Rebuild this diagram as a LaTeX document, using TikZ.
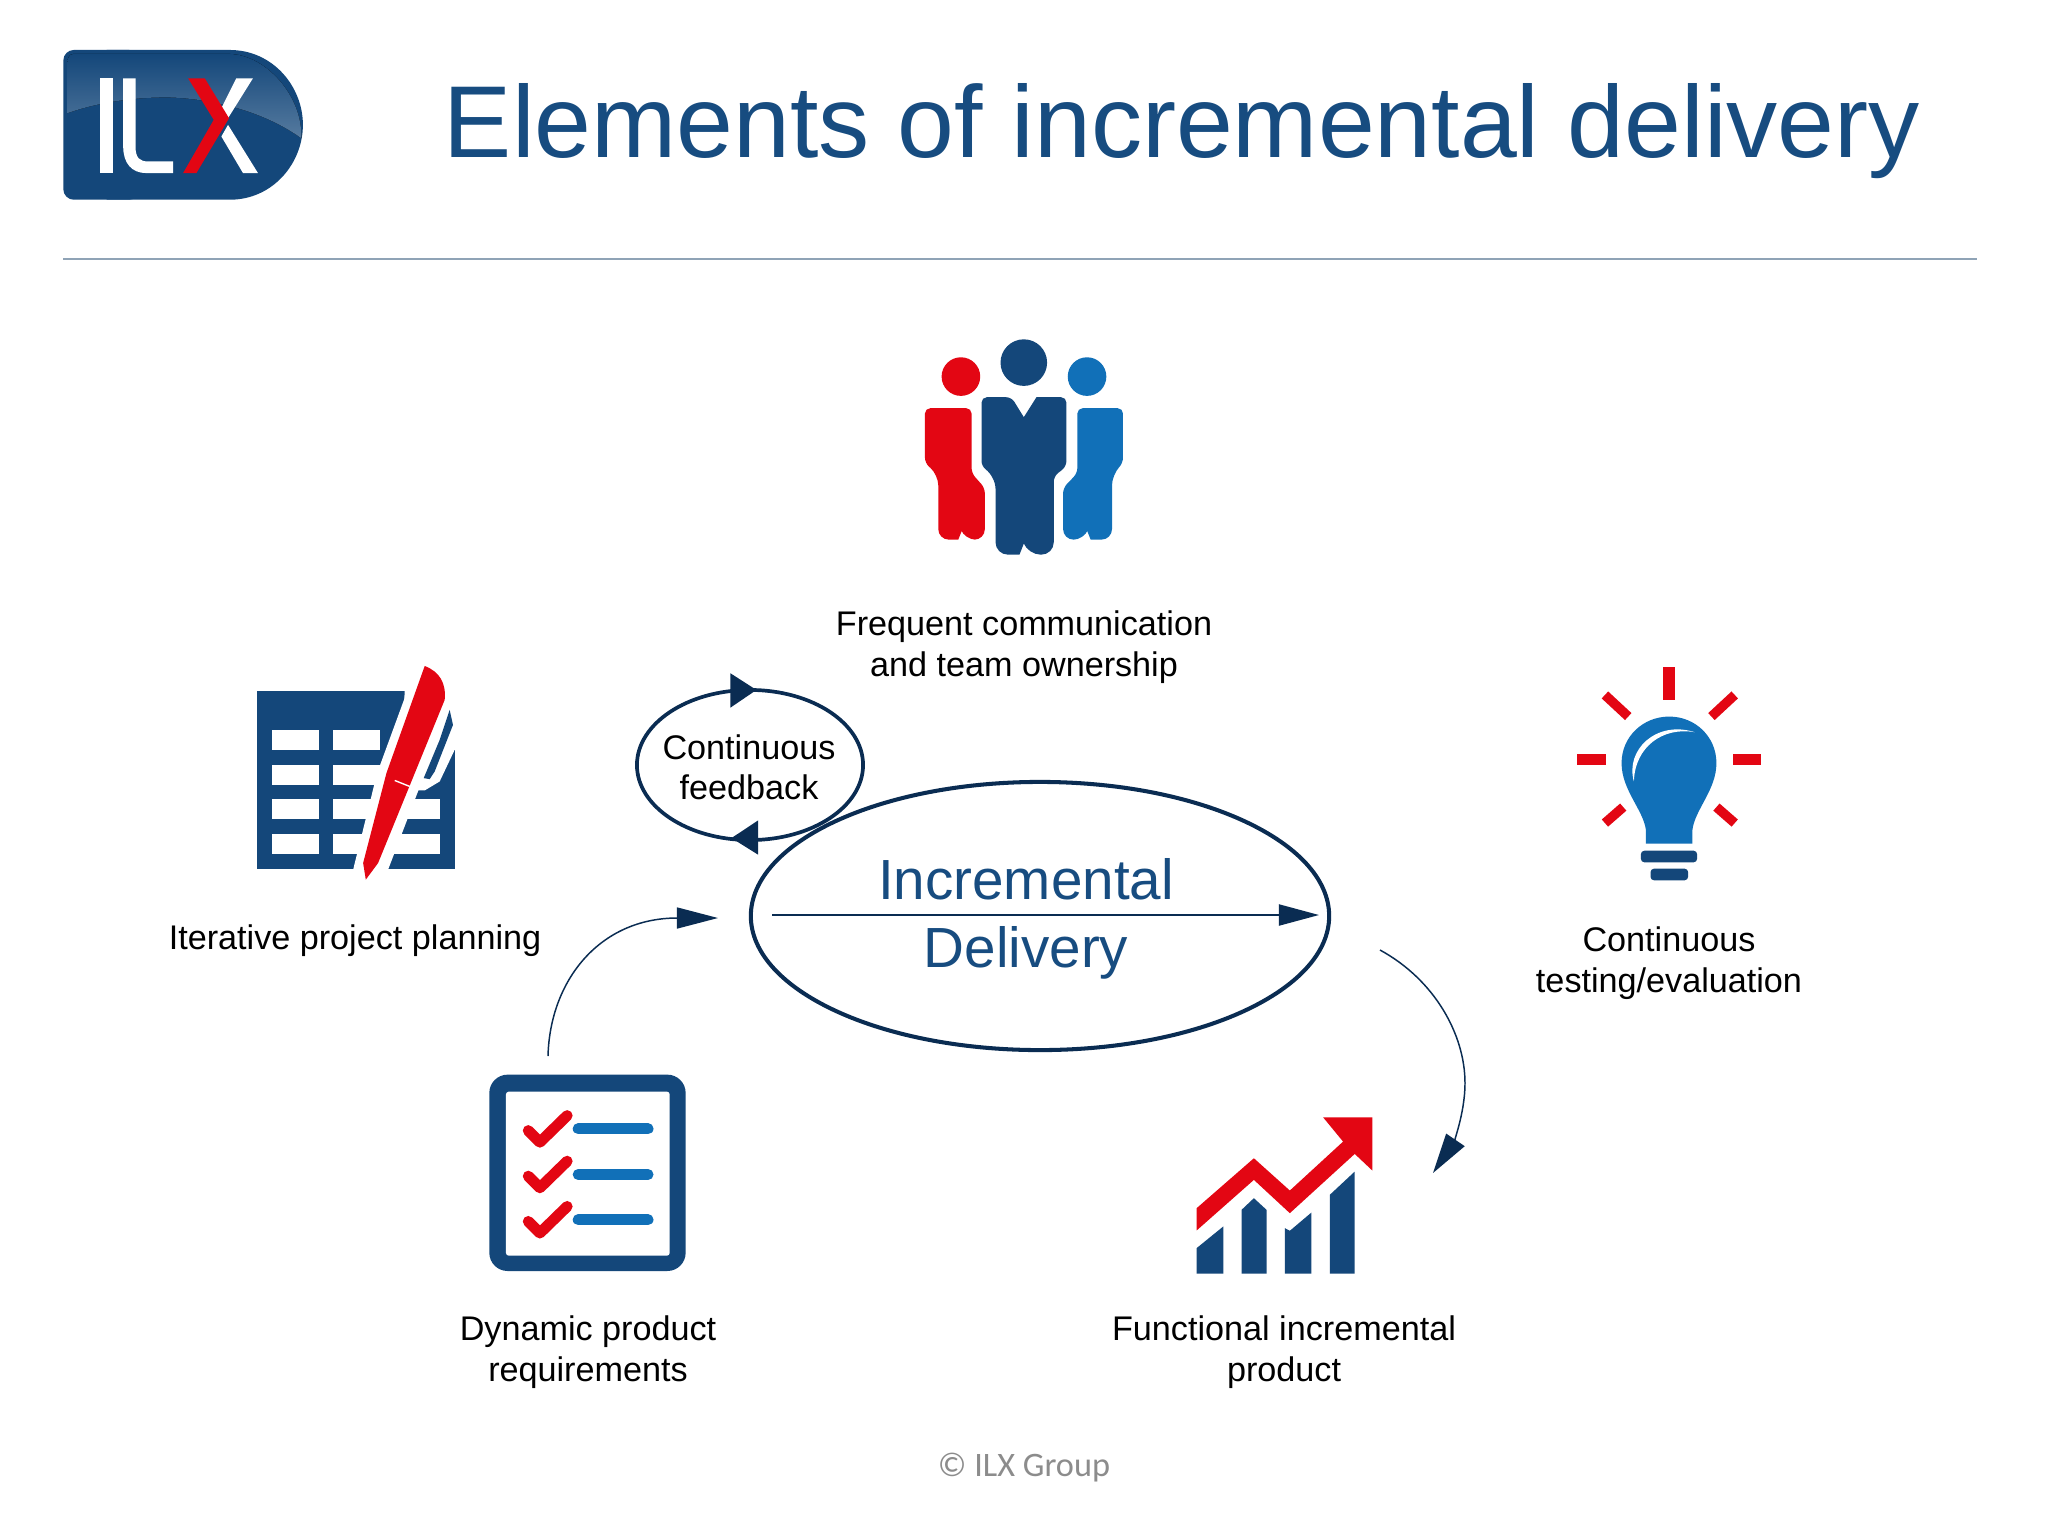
\documentclass[tikz,border=0pt]{standalone}
\usepackage{fontspec}
\usetikzlibrary{shapes.geometric,arrows.meta}
\setmainfont{Liberation Sans}
\newfontfamily\copyfont{Carlito}
\definecolor{navy}{HTML}{14477A}
\definecolor{ink}{HTML}{0A2C52}
\definecolor{titleblue}{HTML}{174C80}
\definecolor{midblue}{HTML}{1170B8}
\definecolor{redicon}{HTML}{E30613}
\definecolor{rulegrey}{HTML}{8FA3B6}
\tikzset{
  lbl/.style={align=center,font=\fontsize{9.72pt}{11.5pt}\selectfont,text=black,inner sep=0pt},
  zoomed/.style={x=0.0033333cm,y=-0.0033333cm},
  thinarc/.style={draw=ink,line width=0.42pt},
  ring/.style={draw=ink,line width=1.05pt,ellipse,inner sep=0pt}
}
\begin{document}
\begin{tikzpicture}[x=0.01cm,y=-0.01cm]
\useasboundingbox (0,0) rectangle (2048,1536);
\fill[white] (0,0) rectangle (2048,1536);
% logo
\begin{scope}[shift={(40,30)},zoomed]
\fill[navy,rounded corners=3pt] (70,60) -- (70,510) -- (300,510) -- (300,60) -- cycle;
\fill[navy] (200,60) -- (570,60) .. controls (700,60) and (790,170) .. (790,285) .. controls (790,400) and (700,510) .. (570,510) -- (200,510) -- cycle;
\fill[top color=navy,bottom color=navy!72!white] (82,250) .. controls (180,215) and (300,200) .. (400,203) .. controls (540,210) and (680,250) .. (785,325) .. controls (790,200) and (680,75) .. (570,72) -- (100,72) .. controls (88,72) and (82,85) .. (82,100) -- cycle;
\fill[white] (180,145) rectangle (218,430);
\fill[white] (250,145) -- (287,145) -- (287,350) .. controls (287,385) and (300,395) .. (325,395) -- (400,395) -- (400,430) -- (320,430) .. controls (275,430) and (250,400) .. (250,350) -- cycle;
\fill[white] (590,145) -- (640,145) -- (565,265) -- (545,235) -- cycle;
\fill[white] (545,320) -- (565,285) -- (655,430) -- (610,430) -- cycle;
\fill[redicon] (445,145) -- (495,145) -- (568,265) -- (470,430) -- (430,430) -- (522,270) -- cycle;
\end{scope}
% title
\node[name=title,anchor=base,inner sep=0pt,text=titleblue,font=\fontsize{29.05pt}{32pt}\selectfont] at (1182,157) {Elements of incremental delivery};
\coordinate (ruleL) at (63,259);
\coordinate (ruleR) at (1977,259);
\draw[draw=rulegrey,line width=0.45pt] (ruleL) -- (ruleR);
% team icon
\begin{scope}[shift={(900,320)},zoomed]
\fill[navy] (372,128) circle (70);
\fill[redicon] (183,170) circle (58);
\fill[midblue] (562,170) circle (58);
\fill[navy,rounded corners=1.5pt] (245,232) -- (335,232) [sharp corners] -- (372,292) -- (410,232) [rounded corners=1.5pt] -- (500,232) -- (500,440) -- (462,470) [rounded corners=3.5pt] -- (462,705) -- (385,705) [sharp corners] -- (372,672) -- (359,705) [rounded corners=3.5pt] -- (287,705) -- (287,470) [rounded corners=1.5pt] -- (245,440) -- cycle;
\fill[redicon,rounded corners=1.5pt] (75,265) -- (215,265) -- (215,460) -- (255,505) [rounded corners=3pt] -- (255,660) -- (195,660) [sharp corners] -- (185,635) -- (175,660) [rounded corners=3pt] -- (115,660) -- (115,465) [rounded corners=1.5pt] -- (75,430) -- cycle;
\fill[midblue,rounded corners=1.5pt] (670,265) -- (533,265) -- (533,460) -- (490,505) [rounded corners=3pt] -- (490,660) -- (553,660) [sharp corners] -- (563,635) -- (573,660) [rounded corners=3pt] -- (637,660) -- (637,465) [rounded corners=1.5pt] -- (670,430) -- cycle;
\end{scope}
\node[name=lblteam,lbl] at (1024,647) {Frequent communication\\and team ownership};
% planning icon
\begin{scope}[shift={(240,650)},zoomed]
\fill[navy] (50,122) rectangle (645,657);
\fill[white] (495,122) -- (650,122) -- (650,300) -- (645,300) -- (600,395) -- (555,422) -- (480,422) -- cycle;
\foreach \ya/\yb in {240/300,345/405}{
  \fill[white] (95,\ya) rectangle (238,\yb);
  \fill[white] (280,\ya) rectangle (420,\yb);
}
\foreach \ya/\yb in {448/508,552/612}{
  \fill[white] (95,\ya) rectangle (238,\yb);
  \fill[white] (280,\ya) rectangle (600,\yb);
}
\fill[white] (340,660) -- (412,370) -- (530,48) -- (640,150) -- (445,660) -- cycle;
\fill[navy] (630,180) -- (640,225) -- (585,365) -- (570,388) -- (552,385) -- (600,270) -- cycle;
\fill[redicon] (555,48) .. controls (600,65) and (620,100) .. (615,150) -- (415,640) -- (378,690) -- (370,640) -- (440,370) -- cycle;
\draw[white,line width=0.4pt] (465,392) -- (510,410);
\end{scope}
\node[name=lblplan,lbl] at (355,941) {Iterative project planning};
% bulb icon
\begin{scope}[shift={(1560,650)},zoomed]
\fill[redicon] (310,52) rectangle (347,150);
\fill[redicon] (52,312) rectangle (138,346);
\fill[redicon] (520,312) rectangle (605,346);
\draw[redicon,line width=2.7pt] (135,135) -- (205,200);
\draw[redicon,line width=2.7pt] (525,135) -- (455,200);
\draw[redicon,line width=2.7pt] (135,520) -- (190,472);
\draw[redicon,line width=2.7pt] (525,520) -- (470,472);
\fill[midblue] (258,582) -- (258,540) .. controls (250,480) and (185,420) .. (185,340) .. controls (185,260) and (250,200) .. (328,200) .. controls (406,200) and (470,260) .. (470,340) .. controls (470,420) and (405,480) .. (398,540) -- (398,582) -- cycle;
\fill[white] (222,395) .. controls (195,300) and (290,210) .. (405,247) .. controls (310,230) and (225,290) .. cycle;
\fill[navy,rounded corners=1pt] (243,603) rectangle (412,638);
\fill[navy,rounded corners=1pt] (272,657) rectangle (385,692);
\end{scope}
\node[name=lbltest,lbl] at (1669,963) {Continuous\\testing/evaluation};
% checklist icon
\begin{scope}[shift={(470,1060)},zoomed]
\fill[navy,rounded corners=5.2pt] (58,44) rectangle (648,634);
\fill[white,rounded corners=0.8pt] (108,95) rectangle (600,588);
\foreach \d in {0,137,273}{
  \draw[redicon,line width=3.1pt,line cap=round,line join=round] (175,212+\d) -- (210,247+\d) -- (292,167+\d);
  \draw[midblue,line width=3.1pt,line cap=round] (325,207+\d) -- (535,207+\d);
}
\end{scope}
\node[name=lblreq,lbl] at (588,1352) {Dynamic product\\requirements};
% chart icon
\begin{scope}[shift={(1180,1100)},zoomed]
\fill[navy] (50,522) -- (50,445) -- (130,380) -- (130,522) -- cycle;
\fill[navy] (185,522) -- (185,330) -- (222,295) -- (260,330) -- (260,522) -- cycle;
\fill[navy] (315,522) -- (315,385) -- (330,393) -- (395,338) -- (395,522) -- cycle;
\fill[navy] (450,522) -- (450,285) -- (525,215) -- (525,522) -- cycle;
\fill[redicon] (50,325) -- (222,175) -- (330,272) -- (490,125) -- (430,52) -- (578,52) -- (578,212) -- (525,162) -- (330,340) -- (222,240) -- (50,392) -- cycle;
\end{scope}
\node[name=lblprod,lbl] at (1284,1352) {Functional incremental\\product};
% central ellipse
\node[name=bigring,ring,line width=1.15pt,minimum width=5.78cm,minimum height=2.68cm] at (1040,916) {};
\node[name=bigtext,align=center,inner sep=0pt,text=titleblue,font=\fontsize{16.1pt}{19.3pt}\selectfont] at (1026,919) {Incremental\\Delivery};
\coordinate (lineL) at (772,915);
\coordinate (lineR) at (1319,915);
\draw[draw=ink,line width=0.55pt,-{Triangle[length=0.4cm,width=0.21cm]}] (lineL) -- (lineR);
% feedback ellipse
\node[name=fbring,ring,minimum width=2.26cm,minimum height=1.5cm] at (750,765) {};
\node[name=fbtext,lbl] at (749,767) {Continuous\\feedback};
\begin{scope}[shift={(620,660)},zoomed]
\fill[ink] (332,40) -- (332,143) -- (410,90) -- cycle;
\fill[ink] (415,482) -- (415,585) -- (335,535) -- cycle;
\end{scope}
% curved arrows
\coordinate (leftS) at (548,1056);
\coordinate (leftE) at (718,918);
\draw[thinarc,-{Triangle[length=0.41cm,width=0.21cm]}] (leftS) .. controls (550,980) and (600,918) .. (leftE);
\coordinate (rightS) at (1380,950);
\coordinate (rightE) at (1433,1173);
\draw[thinarc,-{Triangle[length=0.4cm,width=0.22cm]}] (rightS) .. controls (1435,980) and (1465,1035) .. (1465,1083) .. controls (1465,1115) and (1452,1145) .. (rightE);
% copyright
\node[name=copyr,anchor=base,inner sep=0pt,text=black!45,font=\copyfont\fontsize{9.75pt}{11pt}\selectfont] at (1024,1476) {© ILX Group};
\end{tikzpicture}
\end{document}
